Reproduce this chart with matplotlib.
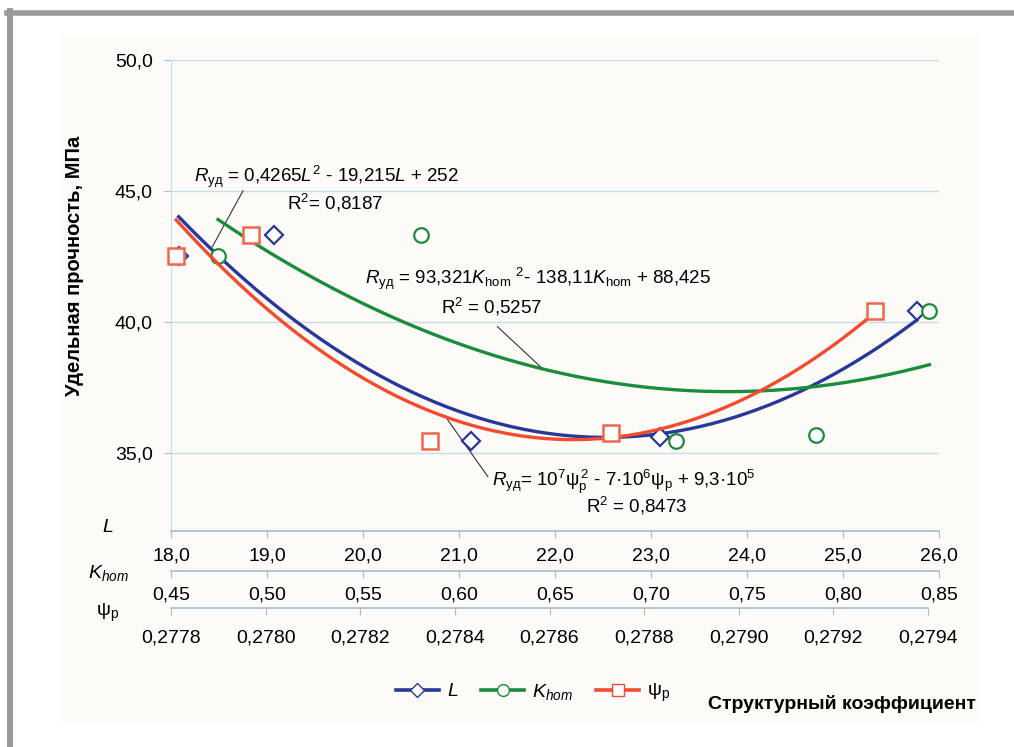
import numpy as np
import matplotlib.pyplot as plt
from matplotlib.lines import Line2D
from matplotlib.patches import Rectangle
from matplotlib.ticker import FuncFormatter

plt.rcParams['font.family'] = ['Liberation Sans', 'DejaVu Sans']
plt.rcParams['mathtext.fontset'] = 'custom'
plt.rcParams['mathtext.rm'] = 'Liberation Sans'
plt.rcParams['mathtext.it'] = 'Liberation Sans:italic'
plt.rcParams['mathtext.bf'] = 'Liberation Sans:bold'

# measured points (strength vs. each structural coefficient)
L_values = [18.08, 19.07, 21.12, 23.09, 25.77]
strength_L = [42.5, 43.3, 35.45, 35.6, 40.4]
K_values = [0.4745, 0.58, 0.713, 0.786, 0.845]
strength_K = [42.5, 43.3, 35.45, 35.65, 40.4]
psi_values = [0.277811, 0.27797, 0.278347, 0.27873, 0.279288]
strength_psi = [42.5, 43.3, 35.45, 35.75, 40.4]

# trend line coefficients printed on the chart
fit_L = [0.4265, -19.215, 252]
fit_K = [93.321, -138.11, 88.425]

L_ticks = [18, 19, 20, 21, 22, 23, 24, 25, 26]
K_ticks = [0.45, 0.50, 0.55, 0.60, 0.65, 0.70, 0.75, 0.80, 0.85]
psi_ticks = [0.2778, 0.2780, 0.2782, 0.2784, 0.2786, 0.2788, 0.2790, 0.2792, 0.2794]
y_ticks = [35, 40, 45, 50]

blue = '#27389a'
green = '#1b8c3c'
red = '#f24b2e'
axis_col = '#a4bccd'
grid_col = '#c9dce6'

W, H = 1014, 747
fig = plt.figure(figsize=(W / 100, H / 100), dpi=100)

# page frame
fig.add_artist(Rectangle((60 / W, 1 - 720 / H), 918 / W, 682 / H,
                         transform=fig.transFigure, color='#fcfbf8', zorder=-5))
fig.add_artist(Line2D([7 / W, 1], [1 - 12.5 / H, 1 - 12.5 / H], transform=fig.transFigure,
                      color='#9a9a9a', lw=4))
fig.add_artist(Line2D([10 / W, 10 / W], [0, 1 - 11 / H], transform=fig.transFigure,
                      color='#9a9a9a', lw=4.3))

ax = fig.add_axes([171 / W, 1 - 531 / H, 768 / W, 471 / H])
ax.patch.set_visible(False)
ax.set_xlim(18, 26)
ax.set_ylim(32, 50)

comma = lambda fmt: FuncFormatter(lambda v, p: fmt.format(v).replace('.', ','))
tfs = 14

ax.set_yticks(y_ticks)
ax.yaxis.set_major_formatter(comma('{:.1f}'))
ax.set_xticks(L_ticks)
ax.xaxis.set_major_formatter(comma('{:.1f}'))
ax.yaxis.grid(True, color=grid_col, lw=1)
ax.set_axisbelow(True)
for s in ['top', 'right']:
    ax.spines[s].set_visible(False)
ax.spines['left'].set_color(grid_col)
ax.spines['bottom'].set_color(axis_col)
ax.spines['bottom'].set_linewidth(1.2)
ax.tick_params(axis='y', length=5, color=axis_col, pad=8, labelsize=tfs)
ax.tick_params(axis='x', length=5, color=axis_col, pad=7, labelsize=tfs)

# K_hom axis
axK = ax.twiny()
axK.set_xlim(0.45, 0.85)
axK.xaxis.set_ticks_position('bottom')
axK.spines['bottom'].set_position(('outward', 40 * 0.72))
axK.set_xticks(K_ticks)
axK.xaxis.set_major_formatter(comma('{:.2f}'))
for s in ['top', 'right', 'left']:
    axK.spines[s].set_visible(False)
axK.spines['bottom'].set_color(axis_col)
axK.spines['bottom'].set_linewidth(1.2)
axK.tick_params(axis='x', length=5, color=axis_col, pad=6, labelsize=tfs)

# psi axis
axP = ax.twiny()
axP.set_xlim(0.2778, 0.2778 + 0.0016 * 768 / 757)
axP.xaxis.set_ticks_position('bottom')
axP.spines['bottom'].set_position(('outward', 77 * 0.72))
axP.spines['bottom'].set_bounds(psi_ticks[0], psi_ticks[-1])
axP.set_xticks(psi_ticks)
axP.xaxis.set_major_formatter(comma('{:.4f}'))
for s in ['top', 'right', 'left']:
    axP.spines[s].set_visible(False)
axP.spines['bottom'].set_color(axis_col)
axP.spines['bottom'].set_linewidth(1.2)
axP.tick_params(axis='x', length=5, color=axis_col, pad=10.5, labelsize=tfs)

# trend lines
xs = np.linspace(L_values[0], L_values[-1], 200)
ax.plot(xs, np.polyval(fit_L, xs), color=blue, lw=2.4, zorder=4)
xk = np.linspace(K_values[0], K_values[-1], 200)
axK.plot(xk, np.polyval(fit_K, xk), color=green, lw=2.4, zorder=3)
fit_psi = np.polynomial.Polynomial.fit(psi_values, strength_psi, 2)
xp = np.linspace(psi_values[0], psi_values[-1], 200)
axP.plot(xp, fit_psi(xp), color=red, lw=2.4, zorder=3)

# markers (white filled, drawn over the lines)
ax.plot(L_values, strength_L, 'D', ms=9.5, mfc='white', mec=blue, mew=1.6, clip_on=False, zorder=5)
axK.plot(K_values, strength_K, 'o', ms=10.5, mfc='white', mec=green, mew=1.6, clip_on=False, zorder=5)
axP.plot(psi_values, strength_psi, 's', ms=11, mfc='white', mec='#f2664c', mew=1.8, clip_on=False, zorder=5)

# equations
fs = 13.5
ax.text(19.62, 45.55, r'$R_\mathrm{уд}$ = 0,4265$L^\mathrm{2}$ - 19,215$L$ + 252',
        ha='center', va='center', fontsize=fs)
ax.text(19.71, 44.54, r'R$^\mathrm{2}$= 0,8187', ha='center', va='center', fontsize=fs)
ax.plot([18.43, 18.75], [42.86, 45.0], color='#333333', lw=0.8)

ax.text(21.82, 41.62, r'$R_\mathrm{уд}$ = 93,321$K_\mathrm{hom}$ $^\mathrm{2}$- 138,11$K_\mathrm{hom}$ + 88,425',
        ha='center', va='center', fontsize=fs)
ax.text(21.34, 40.57, r'R$^\mathrm{2}$ = 0,5257', ha='center', va='center', fontsize=fs)
ax.plot([21.40, 21.88], [39.81, 38.17], color='#333333', lw=0.8)

ax.text(22.72, 33.88, r'$R_\mathrm{уд}$= 10$^\mathrm{7}$ψ$_\mathrm{p}^{\,\mathrm{2}}$ - 7·10$^\mathrm{6}$ψ$_\mathrm{p}$ + 9,3·10$^\mathrm{5}$',
        ha='center', va='center', fontsize=fs)
ax.text(22.85, 32.95, r'R$^\mathrm{2}$ = 0,8473', ha='center', va='center', fontsize=fs)
ax.plot([20.88, 21.30], [36.26, 34.08], color='#333333', lw=0.8)

# axis titles
fig.text(75 / W, 1 - 266 / H, 'Удельная прочность, МПа', rotation=90, ha='center',
         va='center', fontsize=14.5, weight='bold')
fig.text(108 / W, 1 - 528 / H, r'$L$', ha='center', va='center', fontsize=14)
fig.text(108 / W, 1 - 573 / H, r'$K_{hom}$', ha='center', va='center', fontsize=14)
fig.text(108 / W, 1 - 613 / H, r'ψ$_\mathrm{p}$', ha='center', va='center', fontsize=14)

handles = [Line2D([], [], color=blue, marker='D', ms=7.5, mfc='white', mec=blue, lw=2.6),
           Line2D([], [], color=green, marker='o', ms=8.5, mfc='white', mec=green, lw=2.6),
           Line2D([], [], color=red, marker='s', ms=8.5, mfc='white', mec=red, lw=2.6)]
fig.legend(handles, [r'$L$', r'$K_{hom}$', r'ψ$_\mathrm{p}$'], loc='center',
           bbox_to_anchor=(533 / W, 1 - 693 / H), ncol=3, frameon=False, fontsize=14,
           handlelength=2.2, handletextpad=0.4, columnspacing=1.2)
fig.text(842 / W, 1 - 704 / H, 'Структурный коэффициент', ha='center', va='center',
         fontsize=14, weight='bold')

fig.savefig('out.png', dpi=100)
